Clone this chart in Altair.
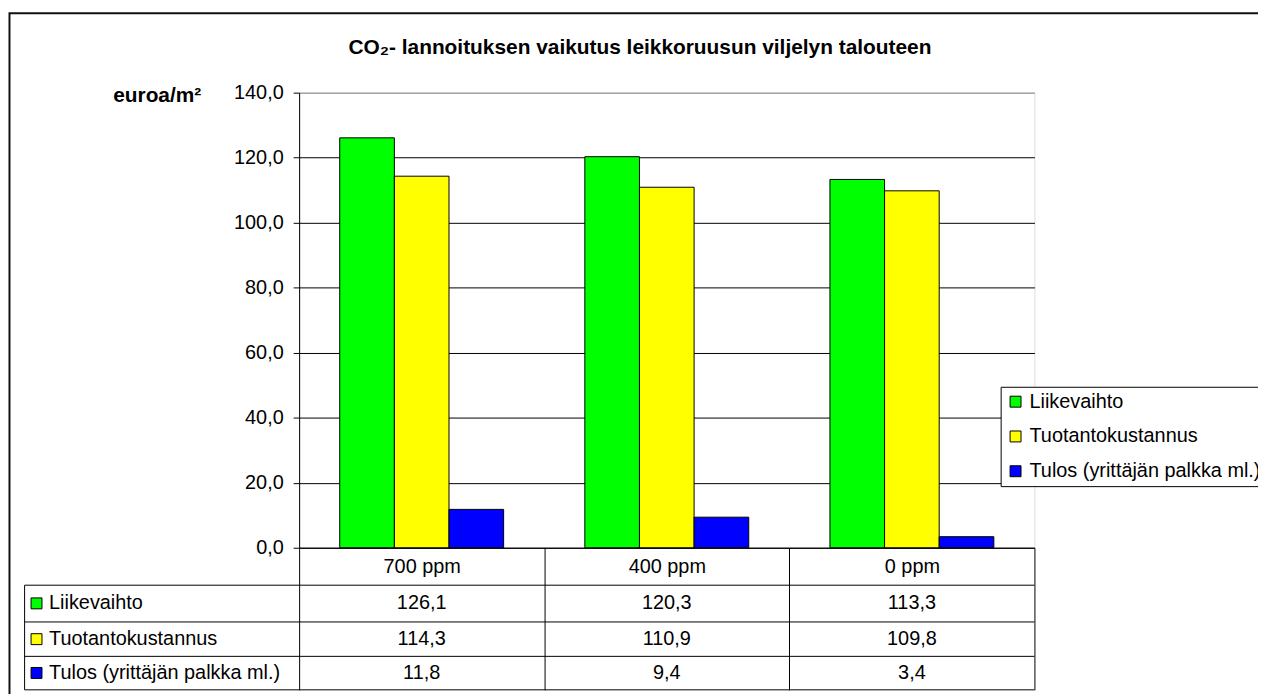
import altair as alt
import pandas as pd

# ---- data ----
categories = ["700 ppm", "400 ppm", "0 ppm"]
series = ["Liikevaihto", "Tuotantokustannus", "Tulos (yrittäjän palkka ml.)"]
liikevaihto = [126.1, 120.3, 113.3]
tuotantokustannus = [114.3, 110.9, 109.8]
tulos = [11.8, 9.4, 3.4]
colors = ["#00FF00", "#FFFF00", "#0000FF"]
y_ticks = [0, 20, 40, 60, 80, 100, 120, 140]

title_text = "CO\u2082- lannoituksen vaikutus leikkoruusun viljelyn talouteen"
y_title = "euroa/m\u00b2"

values = [liikevaihto, tuotantokustannus, tulos]
records = []
for s, vals in zip(series, values):
    for c, v in zip(categories, vals):
        records.append({"kategoria": c, "sarja": s, "arvo": v})
df = pd.DataFrame(records)

FONT = "Liberation Sans"
W, H = 740, 458

# layout (view pixel coordinates) for the data table below the plot
header_mid = 477
row_mid = [514, 550, 584]
row_lines = [495.7, 532.7, 567.3, 601]
table_left = -276.3
marker_x = -264.3
label_x = -251.7

comma_expr = "replace(format(datum.value, '.1f'), '.', ',')"

color = alt.Color(
    "sarja:N",
    sort=series,
    scale=alt.Scale(domain=series, range=colors),
    legend=alt.Legend(
        title=None, orient="none", legendX=706, legendY=296, direction="vertical",
        labelFontSize=20, labelFont=FONT, labelColor="black", labelLimit=400,
        symbolType="square", symbolSize=121, symbolStrokeColor="black",
        symbolStrokeWidth=1, symbolOpacity=1, padding=5, rowPadding=15,
        labelOffset=4, strokeColor="black", fillColor="white",
    ),
)

x_enc = alt.X(
    "kategoria:N", sort=categories,
    scale=alt.Scale(paddingInner=0, paddingOuter=0),
    axis=alt.Axis(
        title=None, labelAngle=0, labelFontSize=20, labelFont=FONT, labelColor="black",
        labelBaseline="middle", labelPadding=header_mid - H - (row_lines[-1] - H),
        tickBand="extent", tickSize=row_lines[-1] - H, tickColor="black",
        domainColor="black", grid=False,
    ),
)

y_enc = alt.Y(
    "arvo:Q",
    scale=alt.Scale(domain=[0, 140], nice=False),
    axis=alt.Axis(
        values=y_ticks, title=y_title, titleAngle=0, titleFontSize=21,
        titleFontWeight="bold", titleFont=FONT, titleColor="black",
        titleAlign="right", titleBaseline="alphabetic", titleX=-99, titleY=9,
        labelExpr=comma_expr, labelFontSize=20, labelFont=FONT, labelColor="black",
        labelPadding=10, tickSize=6, tickColor="black", domainColor="black",
        gridColor=alt.condition("datum.value == 140", alt.value("#808080"), alt.value("black")),
    ),
)

one = pd.DataFrame({"k": [0]})

frame = alt.Chart(one).mark_rect(filled=False, stroke="#111111", strokeWidth=2).encode(
    x=alt.value(-291.5), x2=alt.value(1100), y=alt.value(-80), y2=alt.value(800)
)

title = alt.Chart(one).mark_text(
    text=title_text, fontSize=21, fontWeight="bold", font=FONT, color="black",
    align="center", baseline="alphabetic",
).encode(x=alt.value(343), y=alt.value(-38.7))

bars = alt.Chart(df).mark_bar(stroke="black", strokeWidth=1).encode(
    x=x_enc,
    xOffset=alt.XOffset("sarja:N", sort=series,
                        scale=alt.Scale(paddingInner=0, paddingOuter=0.743)),
    y=y_enc,
    color=color,
)

layers = [frame, title, bars]

# table horizontal lines
for yy in row_lines:
    layers.append(
        alt.Chart(one).mark_rule(color="black", strokeWidth=1).encode(
            x=alt.value(table_left), x2=alt.value(W), y=alt.value(yy)
        )
    )
# table left border
layers.append(
    alt.Chart(one).mark_rule(color="black", strokeWidth=1).encode(
        x=alt.value(table_left), y=alt.value(row_lines[0]), y2=alt.value(row_lines[-1])
    )
)

for i, s in enumerate(series):
    sub = alt.Chart(df).transform_filter(alt.datum.sarja == s)
    # value cells
    layers.append(
        sub.transform_calculate(
            teksti="replace(format(datum.arvo, '.1f'), '.', ',')"
        ).mark_text(fontSize=20, font=FONT, color="black", align="center",
                    baseline="middle").encode(
            x=x_enc, y=alt.value(row_mid[i]), text="teksti:N"
        )
    )
    first = sub.transform_filter(alt.datum.kategoria == categories[0])
    # row marker
    layers.append(
        first.mark_point(shape="square", filled=True, size=121, stroke="black",
                         strokeWidth=1, opacity=1).encode(
            x=alt.value(marker_x), y=alt.value(row_mid[i]), color=color
        )
    )
    # row label
    layers.append(
        first.mark_text(fontSize=20, font=FONT, color="black", align="left",
                        baseline="middle").encode(
            x=alt.value(label_x), y=alt.value(row_mid[i]), text="sarja:N"
        )
    )

chart = alt.layer(*layers).properties(
    width=W, height=H,
    padding={"left": 293, "top": 83, "right": 225, "bottom": 145},
    autosize=alt.AutoSizeParams(type="none"),
).configure_view(
    stroke="#808080", strokeWidth=1
).configure(
    font=FONT, background="white"
)

chart.save("out.html", embed_options={"renderer": "svg", "actions": False})
